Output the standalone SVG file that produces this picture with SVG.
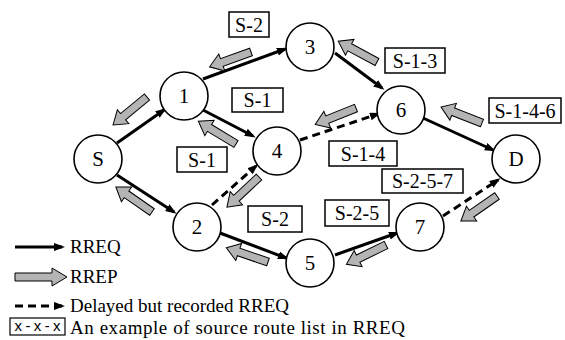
<svg xmlns="http://www.w3.org/2000/svg" width="565" height="340" viewBox="0 0 565 340">
  <style>
    .node circle{fill:#fff;stroke:#000;stroke-width:1.6}
    .node text{font-family:"Liberation Serif","Times New Roman",serif;font-size:21px;text-anchor:middle}
    .req{stroke:#000;stroke-width:3;fill:none;marker-end:url(#ah)}
    .dly{stroke-dasharray:8 5}
    .rrep{fill:#b4b4b4;stroke:#000;stroke-width:1}
    .lbl rect{fill:#fff;stroke:#000;stroke-width:1.5}
    .lbl text{font-family:"Liberation Serif","Times New Roman",serif;font-size:20px;text-anchor:middle}
    .leg{font-family:"Liberation Serif","Times New Roman",serif;font-size:19px}
  </style>
  <defs>
    <marker id="ah" markerUnits="userSpaceOnUse" markerWidth="12" markerHeight="10" refX="8" refY="4" orient="auto">
      <path d="M0,0 L11,4 L0,8 Z" fill="#000"/>
    </marker>
    <!-- block arrow for route replies: tail at origin, pointing along +x -->
    <path id="rrep" d="M0,-4 H31 V-9 L44,0 L31,9 V4 H0 Z"/>
  </defs>

  <rect width="565" height="340" fill="#fff"/>

  <!-- connectors -->
  <g id="connectors">
    <line class="req" x1="117" y1="143" x2="164" y2="110"/>
    <line class="req" x1="203" y1="79" x2="285" y2="49"/>
    <line class="req" x1="335" y1="53" x2="382" y2="88"/>
    <line class="req" x1="423" y1="118" x2="493" y2="150"/>
    <line class="req" x1="203" y1="110" x2="253" y2="136"/>
    <line class="req" x1="117" y1="175" x2="174" y2="212"/>
    <line class="req" x1="220" y1="233" x2="286" y2="258"/>
    <line class="req" x1="335" y1="255" x2="397" y2="233"/>
    <line class="req dly" x1="300" y1="140" x2="378" y2="114"/>
    <line class="req dly" x1="212" y1="205" x2="256" y2="166"/>
    <line class="req dly" x1="443" y1="216" x2="498" y2="180"/>

    <!-- route replies -->
    <use href="#rrep" class="rrep" transform="translate(251,52) rotate(160.3)"/>
    <use href="#rrep" class="rrep" transform="translate(147,97) rotate(140.5)"/>
    <use href="#rrep" class="rrep" transform="translate(377,62) rotate(208.3)"/>
    <use href="#rrep" class="rrep" transform="translate(356,108) rotate(158)"/>
    <use href="#rrep" class="rrep" transform="translate(482,123) rotate(201.3)"/>
    <use href="#rrep" class="rrep" transform="translate(497,196) rotate(145.2)"/>
    <use href="#rrep" class="rrep" transform="translate(236,144) rotate(211.2)"/>
    <use href="#rrep" class="rrep" transform="translate(259,177) rotate(136.8)"/>
    <use href="#rrep" class="rrep" transform="translate(152,212) rotate(214.8)"/>
    <use href="#rrep" class="rrep" transform="translate(268,262) rotate(198.9)"/>
    <use href="#rrep" class="rrep" transform="translate(386,245) rotate(154)"/>
  </g>

  <!-- nodes -->
  <g id="node-S" class="node"><circle cx="98" cy="159" r="24"/><text x="98" y="166">S</text></g>
  <g id="node-1" class="node"><circle cx="184" cy="96" r="24"/><text x="184" y="103">1</text></g>
  <g id="node-3" class="node"><circle cx="310" cy="47" r="24"/><text x="310" y="54">3</text></g>
  <g id="node-6" class="node"><circle cx="401" cy="110" r="24"/><text x="401" y="117">6</text></g>
  <g id="node-D" class="node"><circle cx="516" cy="159" r="24"/><text x="516" y="166">D</text></g>
  <g id="node-4" class="node"><circle cx="277" cy="151" r="24"/><text x="277" y="158">4</text></g>
  <g id="node-2" class="node"><circle cx="197" cy="227" r="24"/><text x="197" y="234">2</text></g>
  <g id="node-5" class="node"><circle cx="310" cy="263" r="24"/><text x="310" y="270">5</text></g>
  <g id="node-7" class="node"><circle cx="420" cy="227" r="24"/><text x="420" y="234">7</text></g>

  <!-- source route lists -->
  <g id="route-S-2a" class="lbl"><rect x="229" y="12" width="40" height="25"/><text x="249" y="31.5">S-2</text></g>
  <g id="route-S-1-3" class="lbl"><rect x="385" y="48" width="60" height="25"/><text x="415" y="67.5">S-1-3</text></g>
  <g id="route-S-1a" class="lbl"><rect x="232" y="88" width="51" height="24"/><text x="257.5" y="107">S-1</text></g>
  <g id="route-S-1b" class="lbl"><rect x="177" y="147" width="50" height="25"/><text x="202" y="166.5">S-1</text></g>
  <g id="route-S-1-4" class="lbl"><rect x="329" y="141" width="68" height="25"/><text x="363" y="160.5">S-1-4</text></g>
  <g id="route-S-2-5-7" class="lbl"><rect x="382" y="169" width="81" height="24"/><text x="422.5" y="188">S-2-5-7</text></g>
  <g id="route-S-2-5" class="lbl"><rect x="325" y="200" width="64" height="26"/><text x="357" y="220">S-2-5</text></g>
  <g id="route-S-2b" class="lbl"><rect x="248" y="206" width="54" height="26"/><text x="275" y="226">S-2</text></g>
  <g id="route-S-1-4-6" class="lbl"><rect x="489" y="98" width="72" height="25"/><text x="525" y="117.5">S-1-4-6</text></g>

  <!-- legend -->
  <g id="legend">
    <line class="req" x1="15" y1="247" x2="62" y2="247"/>
    <text class="leg" x="70" y="253">RREQ</text>
    <path class="rrep" d="M15,273 H52 V268 L67,277 L52,286 V281 H15 Z"/>
    <text class="leg" x="70" y="283">RREP</text>
    <line class="req dly" x1="15" y1="306" x2="62" y2="306"/>
    <text class="leg" x="70" y="312">Delayed but recorded RREQ</text>
    <rect x="10" y="318" width="55" height="17" fill="#fff" stroke="#000" stroke-width="1.2"/>
    <text x="37.5" y="331" font-family="'Liberation Sans',Arial,sans-serif" font-size="15" text-anchor="middle" textLength="46">x-x-x</text>
    <text class="leg" x="70" y="334" textLength="335">An example of source route list in RREQ</text>
  </g>
</svg>
